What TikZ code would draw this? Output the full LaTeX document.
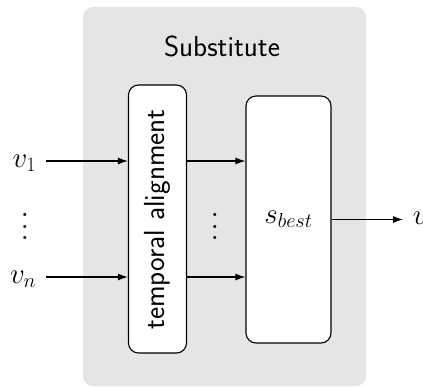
\RequirePackage{fix-cm}
\documentclass[tikz,border=0pt]{standalone}
\usetikzlibrary{arrows.meta}
\newcommand{\bigvdots}{\scalebox{2.9}{\normalsize$\vdots$}}
\begin{document}
\begin{tikzpicture}[x=1pt,y=-1pt,
  every node/.style={font=\fontsize{29}{35}\selectfont, inner sep=9.7pt},
  sans/.style={font=\fontsize{29}{35}\selectfont\sffamily},
  block/.style={draw, fill=white, rounded corners=10pt, line width=1.15pt},
  conn/.style={line width=1.15pt, -{Latex[length=10pt,width=7pt]}}]
  \useasboundingbox (0,0) rectangle (423,387);
  % grey container
  \fill[black!10, rounded corners=10pt] (83,7) rectangle (366,386);
  \node[sans] (title) at (222,46) {Substitute};
  % inner blocks
  \node[block, minimum width=58pt, minimum height=268pt, inner sep=0pt] (ta) at (157.5,219) {};
  \node[rotate=90, sans] (talabel) at (157.5,219.5) {temporal alignment};
  \node[block, minimum width=85pt, minimum height=247pt, inner sep=0pt] (sb) at (288.5,219.5) {$s_{best}$};
  % inputs
  \node[anchor=east] (v1) at (46,163) {$v_1$};
  \node[anchor=east] (vn) at (46,279) {$v_n$};
  \node (vdl) at (25,218) {\bigvdots};
  \node (vdm) at (215,218) {\bigvdots};
  % output
  \node[anchor=west] (out) at (403,218) {$v$};
  % connectors
  \draw[conn] (v1.east |- 0,161) -- (ta.west |- 0,161);
  \draw[conn] (vn.east |- 0,277) -- (ta.west |- 0,277);
  \draw[conn] (ta.east |- 0,161) -- (sb.west |- 0,161);
  \draw[conn] (ta.east |- 0,277) -- (sb.west |- 0,277);
  \draw[conn] (sb.east) -- (out.west |- sb.east);
\end{tikzpicture}
\end{document}
